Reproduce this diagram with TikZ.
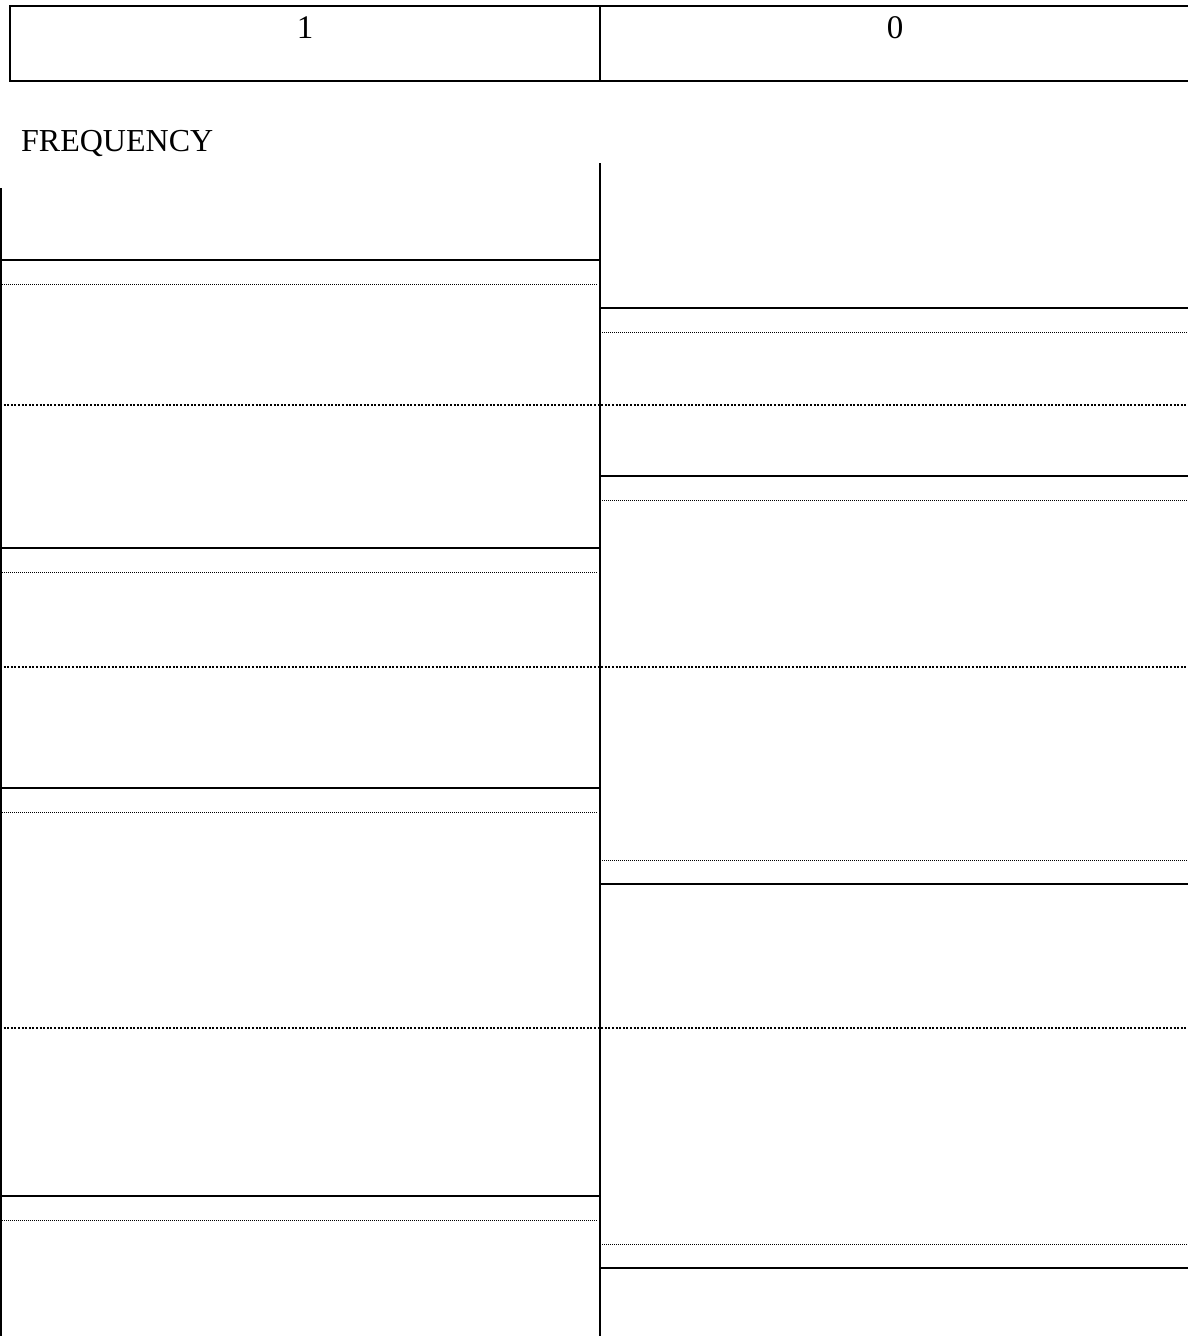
\documentclass[tikz,border=0pt]{standalone}
\usepackage{fontspec}
\setmainfont{Liberation Serif}
\tikzset{
  solidline/.style={line width=2.2pt},
  fulldots/.style={line width=2pt, dash pattern=on 2pt off 1.6pt},
  thindots/.style={line width=1pt, dash pattern=on 1pt off 1pt},
  vline/.style={line width=2.2pt},
  lbl/.style={inner sep=0pt, anchor=base, font=\fontsize{33}{38}\selectfont}
}
\begin{document}
\begin{tikzpicture}[x=1pt,y=-1pt]
\useasboundingbox (0,0) rectangle (1187,1336);
% header box
\draw[line width=2.5pt] (1190,6) -- (10,6) -- (10,81) -- (1190,81);
\draw[line width=1.5pt] (600,6) -- (600,81);
\node[lbl] (one) at (305,38) {1};
\node[lbl] (zero) at (895,38) {0};
\node[lbl, anchor=base west, font=\fontsize{32}{38}\selectfont] (freq) at (21,151) {FREQUENCY};
% vertical lines
\draw[vline] (600,163) -- (600,1340);
\draw[line width=1.5pt] (1,188) -- (1,1340);
% left column solid + thin dotted
\foreach \y in {260,548,788,1196} \draw[solidline] (0,\y) -- (600,\y);
\foreach \y in {284,572,812,1220} \draw[thindots] (2,\y) -- (598,\y);
% right column solid + thin dotted
\foreach \y in {308,476,884,1268} \draw[solidline] (600,\y) -- (1190,\y);
\foreach \y in {332,500,860,1244} \draw[thindots] (602,\y) -- (1187,\y);
% full-width dotted
\foreach \y in {405,667,1028} \draw[fulldots] (0,\y) -- (1190,\y);
\end{tikzpicture}
\end{document}
